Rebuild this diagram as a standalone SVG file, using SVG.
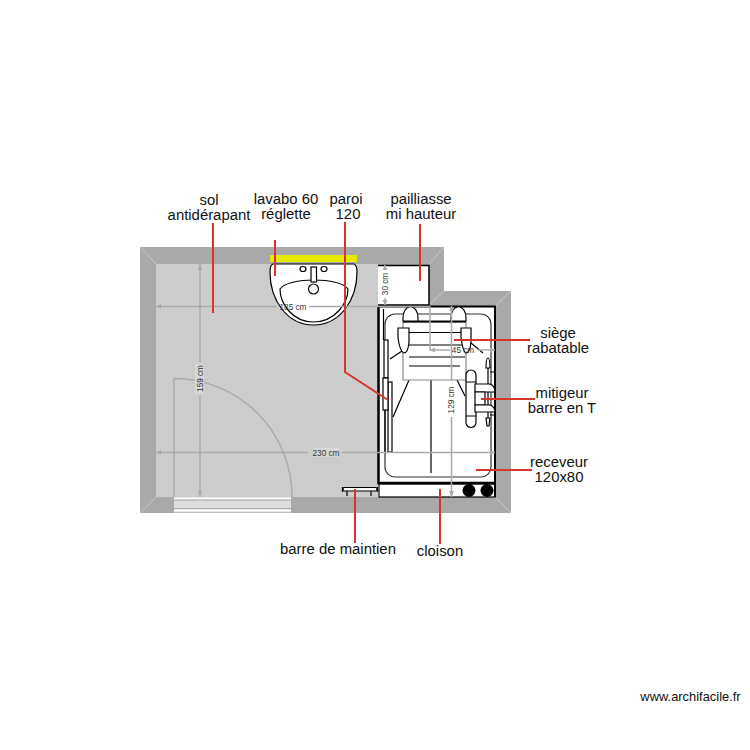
<svg xmlns="http://www.w3.org/2000/svg" width="750" height="750" viewBox="0 0 750 750">
<style>
text{font-family:"Liberation Sans",Arial,sans-serif;fill:#111}
.l{font-size:14.9px;text-anchor:middle}
.d{font-size:8.2px;text-anchor:middle;fill:#333}
.dim{stroke:#aaa;stroke-width:1.5;fill:none}
.ah{fill:#aaa}
.red{stroke:#d8352a;stroke-width:2;fill:none}
.k{stroke:#000;stroke-width:1.2;fill:none}
.kw{stroke:#000;stroke-width:1.2;fill:#fff}
.bev{stroke:#c8c8c8;stroke-width:1;fill:none}
</style>
<g id="walls">
<path d="M140 247H444V291H511V513H140Z" fill="#a9a9a9"/>
<rect x="156" y="264" width="222" height="233" fill="#ccc"/>
<rect x="378" y="265" width="51" height="40" fill="#fff"/>
<rect x="378" y="306" width="117" height="191" fill="#fff"/>
<path class="bev" d="M140 247L156 264M140 513L156 497M511 513L495 497M511 291L495 306M444 291L429 305M444 247L429 264"/>
<path d="M378 265.500H429V305M378 305H429" stroke="#000" stroke-width="1.500" fill="none"/>
</g>
<g id="door">
<rect x="174" y="497" width="117" height="15.500" fill="#ddd"/>
<path d="M174 498.500H291M174 510.500H291" stroke="#fff" stroke-width="1.500"/>
<path d="M174 500H291M174 508.500H291" stroke="#aaa" stroke-width="1"/>
<path d="M174 497V378.500A118 118 0 0 1 292 497" stroke="#aaa" stroke-width="1.500" fill="none"/>
</g>
<g id="lavabo">
<rect x="270" y="255" width="87" height="7" fill="#e6ea00"/>
<path class="kw" stroke-width="1.500" d="M273 264H354Q357 265 357 272C357 300 340 325 313.500 325C287 325 270 300 270 272Q270 265 273 264Z"/>
<path class="k" d="M280 289C288 277 340 277 348 289C348 303 335 322 313.500 322C292 322 280 303 280 289Z"/>
<ellipse class="k" cx="303" cy="269" rx="3" ry="2.500"/>
<ellipse class="k" cx="324" cy="269" rx="3" ry="2.500"/>
<rect class="kw" x="311" y="267" width="5.500" height="15"/>
<circle class="kw" cx="313.500" cy="289" r="5"/>
</g>
<g id="douche">
<path d="M378.500 307V483H495" stroke="#000" stroke-width="2.500" fill="none"/>
<path d="M378.500 306.500H495V497" stroke="#000" stroke-width="2" fill="none"/>
<path class="k" d="M383.500 309V340"/>
<rect x="385" y="314" width="106" height="163" rx="10" fill="#fff" stroke="#333" stroke-width="1.200"/>
<rect x="379" y="484" width="116" height="13" class="k" fill="#fff"/>
<circle cx="469" cy="490.500" r="6.500" fill="#000"/>
<circle cx="487" cy="490.500" r="6.500" fill="#000"/>
<rect x="388" y="382" width="4" height="70" class="kw"/>
<rect x="384" y="340" width="4" height="38" class="kw"/>
<rect x="383" y="378" width="5" height="32" class="kw"/>
<path class="k" d="M385 410V452"/>
<path class="k" d="M390 359L402 351M471 343L483 353M409 380L393 417M457 380L465 396M431 380V473"/>
<path d="M403 322H466V380H403Z" fill="#fff" stroke="#888" stroke-width="1.200"/>
<path d="M403 321.500H466" stroke="#000" stroke-width="2"/>
<path class="k" d="M409 332.500H465M409 345H465M409 357H465M409 366H460"/>
<path class="kw" d="M403 321V318C403 303 418 303 418 318V321Z"/>
<path class="kw" d="M451 321V318C451 303 466 303 466 318V321Z"/>
<path class="kw" d="M398 328H409V342Q408 353 404 353Q400 352 398 338Z"/>
<path class="kw" d="M461 328H471V342Q470 353 466 353Q463 352 461 338Z"/>
<rect class="kw" x="466" y="370" width="10" height="57.500" rx="5"/>
<path class="k" stroke-width="1" d="M466 382H476M466 416H476"/>
<path class="k" d="M488 368V418M486 368Q486 358 488 358Q490 358 490 368ZM486 418H490L489 426H487ZM490 372H495M490 415H495"/>
<path class="kw" d="M475 384H490Q495 386 495 392H475Z"/>
<path class="kw" d="M475 392H485V405H475Z"/>
<path class="kw" d="M475 405H490Q495 407 495 412H475Z"/>
</g>
<g id="barre">
<rect class="kw" x="343" y="487.500" width="34" height="3.500" rx="1.500"/>
<path class="k" d="M347 491V496M371 491V496M342.500 487V492M377.500 487V492"/>
</g>
<g id="cotes">
<path class="dim" d="M156 306.500H277M309 306.500H429M200 264V362M200 396V497M385 265V270M385 298V305M430 306V350H450M478 350H495M451.500 306V380M451.500 417V497M156 452.500H308M342 452.500H495"/>
<path class="ah" d="M156 306.500L161 304V309ZM200 264L197.500 270H202.500ZM200 497L197.500 491H202.500ZM385 265L382.500 270H387.500ZM385 305L382.500 300H387.500ZM430 350L435 347.500V352.500ZM495 350L490 347.500V352.500ZM451.500 306L449 311H454ZM451.500 497L449 491H454ZM156 452.500L161 450V455ZM495 452.500L490 450V455Z"/>
<rect x="195" y="364" width="9" height="30" fill="#d8d8d8"/>
<rect x="313" y="448" width="26" height="9" fill="#d8d8d8"/>
<text class="d" x="293" y="309.500">185 cm</text>
<text class="d" x="326" y="455.500">230 cm</text>
<text class="d" x="463" y="353">45 cm</text>
<text class="d" transform="translate(202.500 378.500) rotate(-90)">159 cm</text>
<text class="d" transform="translate(387.500 284) rotate(-90)">30 cm</text>
<text class="d" transform="translate(454 400) rotate(-90)">129 cm</text>
</g>
<g id="reperes">
<path class="red" d="M213 223V313M275 240V276M345 222V372L388 400M420 224V281M454 340H530M481 399H535M476 470H532M355 489V543M440 489V544"/>
</g>
<g id="textes">
<text class="l" x="209" y="205">sol</text>
<text class="l" x="209" y="220">antidérapant</text>
<text class="l" x="286" y="204">lavabo 60</text>
<text class="l" x="286" y="219">réglette</text>
<text class="l" x="346" y="204">paroi</text>
<text class="l" x="348" y="219">120</text>
<text class="l" x="421" y="204">pailliasse</text>
<text class="l" x="421" y="219">mi hauteur</text>
<text class="l" x="558" y="337.500">siège</text>
<text class="l" x="558" y="352.500">rabatable</text>
<text class="l" x="562" y="397.500">mitigeur</text>
<text class="l" x="562" y="412.500">barre en T</text>
<text class="l" x="559" y="467">receveur</text>
<text class="l" x="559" y="482">120x80</text>
<text class="l" x="338" y="554">barre de maintien</text>
<text class="l" x="440" y="556">cloison</text>
<text x="690.500" y="701" font-size="12.900" text-anchor="middle">www.archifacile.fr</text>
</g>
</svg>
